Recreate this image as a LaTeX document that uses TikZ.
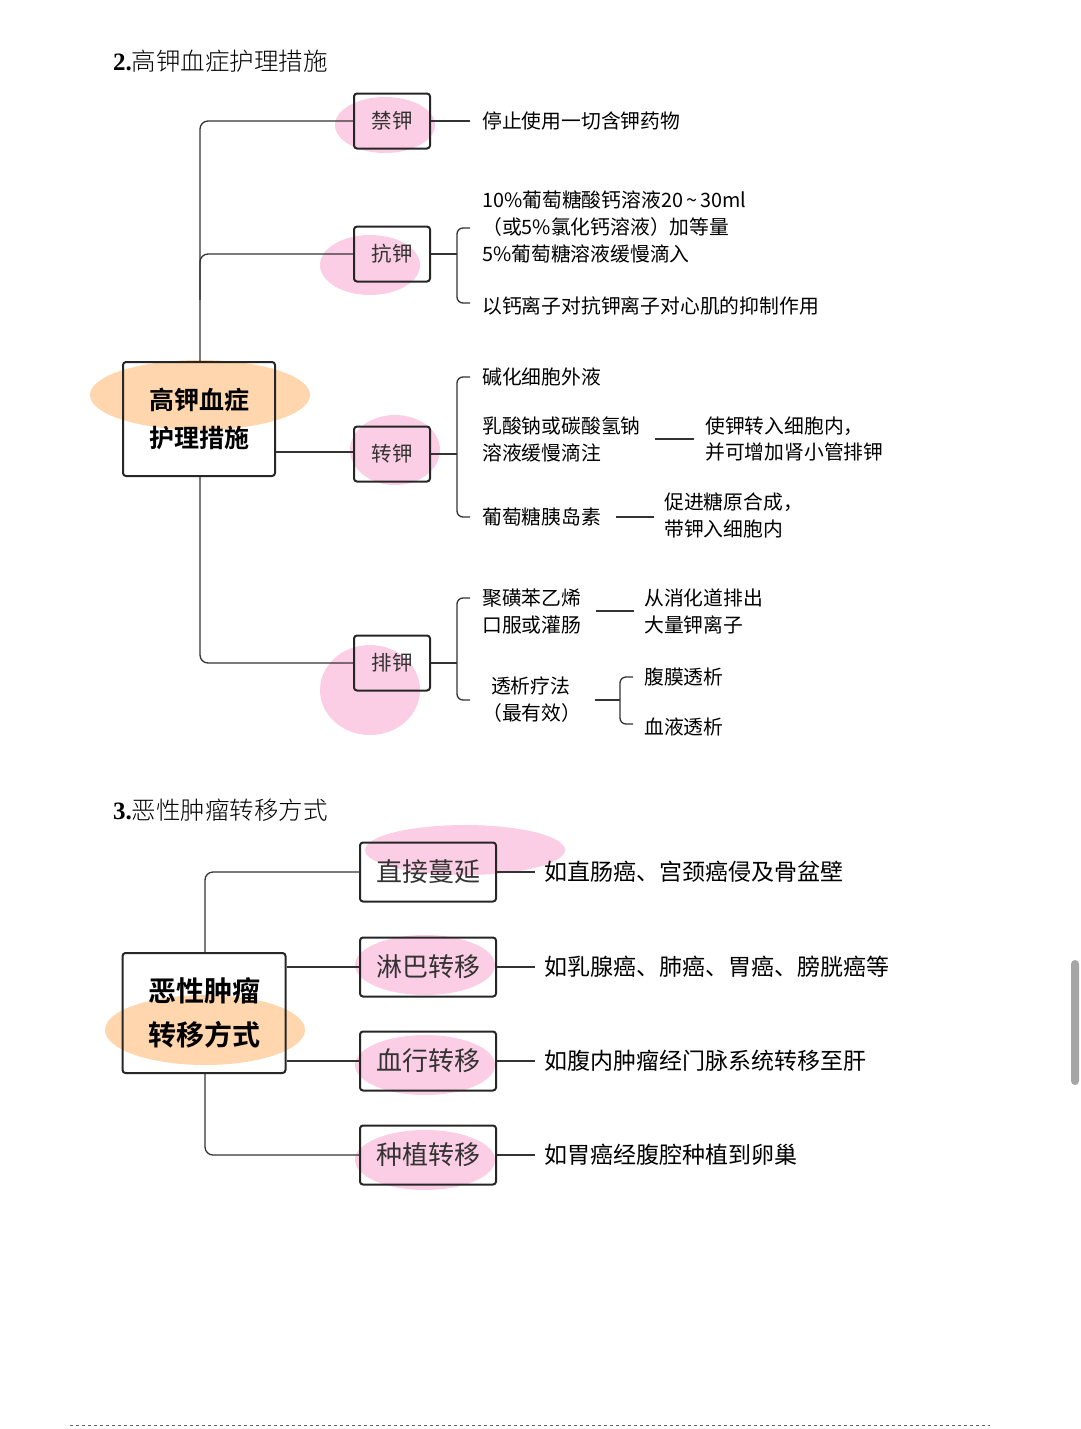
\documentclass[tikz,border=0pt]{standalone}
\usepackage{fontspec}
\setmainfont{Noto Sans CJK SC}
\newfontfamily\cjkb[BoldFont={* Bold}]{Noto Sans CJK SC}
\newfontfamily\cjkl{Noto Sans CJK SC Light}
\newfontfamily\numserif{Liberation Serif}
\tikzset{
 box/.style={draw=black!85,line width=2pt,rounded corners=3pt,inner sep=0pt},
 ln/.style={draw=black!80,line width=1.3pt},
 txt/.style={anchor=west,font=\fontsize{19.8}{27}\selectfont,inner sep=0pt,align=left},
 pk/.style={fill=magenta!60!pink,opacity=0.28},
 og/.style={fill=orange!80,opacity=0.4},
}
\begin{document}
\begin{tikzpicture}[x=1pt,y=-1pt]
\useasboundingbox (0,0) rectangle (1080,1429);
% highlights
\fill[pk] (385,125) ellipse (50 and 28);
\fill[pk] (370,265) ellipse (50 and 30);
\fill[pk] (395,450) ellipse (45 and 35);
\fill[pk] (370,690) ellipse (50 and 45);
\fill[og] (200,395) ellipse (110 and 35);
\fill[pk] (465,850) ellipse (100 and 25);
\fill[pk] (425,965) ellipse (70 and 30);
\fill[pk] (425,1065) ellipse (70 and 30);
\fill[pk] (425,1160) ellipse (70 and 30);
\fill[og] (205,1030) ellipse (100 and 35);
% titles
\node[txt] at (113,61) {{\numserif\bfseries\fontsize{25}{26}\selectfont 2.}{\cjkl\fontsize{24.5}{26}\selectfont 高钾血症护理措施}};
\node[txt] at (113,810) {{\numserif\bfseries\fontsize{25}{26}\selectfont 3.}{\cjkl\fontsize{24.5}{26}\selectfont 恶性肿瘤转移方式}};
% section 1
\node[box,minimum width=152pt,minimum height=114pt,font=\cjkb\bfseries\fontsize{25}{38}\selectfont,align=center] (r1) at (199,419) {高钾血症\\护理措施};
\foreach \n/\t/\y in {b1/禁钾/121,b2/抗钾/254,b3/转钾/454,b4/排钾/663}
 \node[box,minimum width=76pt,minimum height=55pt,font=\fontsize{20.5}{24}\selectfont,text=black!80] (\n) at (392,\y) {\t};
\draw[ln,rounded corners=8pt] (b1.west) -- (200,121) -- (r1.north-|200,0);
\draw[ln,rounded corners=8pt] (b2.west) -- (200,254) -- (200,300);
\draw[ln,rounded corners=8pt] (r1.south-|200,0) -- (200,663) -- (b4.west);
\draw[ln] (r1.east|-0,452) -- (b3.west|-0,452);
\coordinate (e1) at (470,121);
\draw[ln] (b1.east) -- (e1);
\node[txt] (t1) at (482,121) {停止使用一切含钾药物};
% 抗钾
\draw[ln] (b2.east) -- (457,254);
\draw[ln,rounded corners=6pt] (470,228) -- (457,228) -- (457,303) -- (470,303);
\node[txt] (t21) at (482,227) {10\%葡萄糖酸钙溶液20\,\textasciitilde\,30ml\\（或5\%氯化钙溶液）加等量\\5\%葡萄糖溶液缓慢滴入};
\node[txt] (t22) at (482,306) {以钙离子对抗钾离子对心肌的抑制作用};
% 转钾
\draw[ln] (b3.east) -- (457,454);
\draw[ln,rounded corners=6pt] (470,377) -- (457,377) -- (457,517) -- (470,517);
\node[txt] (t31) at (482,377) {碱化细胞外液};
\node[txt] (t32) at (482,439) {乳酸钠或碳酸氢钠\\溶液缓慢滴注};
\node[txt] (t33) at (705,439) {使钾转入细胞内，\\并可增加肾小管排钾};
\draw[ln] (655,439) -- (694,439);
\node[txt] (t34) at (482,517) {葡萄糖胰岛素};
\node[txt] (t35) at (664,515) {促进糖原合成，\\带钾入细胞内};
\draw[ln] (616,517) -- (654,517);
% 排钾
\draw[ln] (b4.east) -- (457,663);
\draw[ln,rounded corners=6pt] (470,598) -- (457,598) -- (457,700) -- (470,700);
\node[txt] (t41) at (482,611) {聚磺苯乙烯\\口服或灌肠};
\node[txt] (t42) at (644,611) {从消化道排出\\大量钾离子};
\draw[ln] (596,611) -- (634,611);
\node[txt] (t43) at (482,700) {\ \ 透析疗法\\（最有效）};
\draw[ln] (595,700) -- (620,700);
\draw[ln,rounded corners=6pt] (633,677) -- (620,677) -- (620,724) -- (633,724);
\node[txt] (t44) at (644,677) {腹膜透析};
\node[txt] (t45) at (644,727) {血液透析};
% section 2
\node[box,minimum width=163pt,minimum height=120pt,font=\cjkb\bfseries\fontsize{28}{44}\selectfont,align=center] (r2) at (204,1013) {恶性肿瘤\\转移方式};
\foreach \n/\t/\y/\d in {c1/直接蔓延/872/如直肠癌、宫颈癌侵及骨盆壁,c2/淋巴转移/967/如乳腺癌、肺癌、胃癌、膀胱癌等,c3/血行转移/1061/如腹内肿瘤经门脉系统转移至肝,c4/种植转移/1155/如胃癌经腹腔种植到卵巢}{
 \node[box,minimum width=136pt,minimum height=59pt,font=\fontsize{26}{30}\selectfont,text=black!80] (\n) at (428,\y) {\t};
 \node[txt,font=\fontsize{23}{26}\selectfont] (d\n) at (544,\y) {\d};
 \draw[ln] (\n.east) -- (535,\y);
}
\draw[ln,rounded corners=8pt] (c1.west) -- (205,872) -- (r2.north-|205,0);
\draw[ln,rounded corners=8pt] (r2.south-|205,0) -- (205,1155) -- (c4.west);
\draw[ln] (r2.east|-0,967) -- (c2.west);
\draw[ln] (r2.east|-0,1061) -- (c3.west);
% footer
\draw[black!60,dash pattern=on 3pt off 3pt,line width=0.8pt] (70,1425) -- (990,1425);
\fill[black!35,rounded corners=4pt] (1071,960) rectangle (1079,1085);
\end{tikzpicture}
\end{document}
